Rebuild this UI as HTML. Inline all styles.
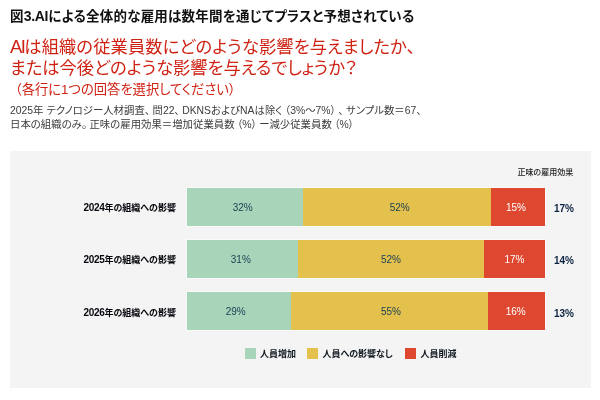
<!DOCTYPE html>
<html lang="ja">
<head>
<meta charset="utf-8">
<title>図3</title>
<style>
html,body{margin:0;padding:0;background:#fff;}
body{font-feature-settings:"palt";width:600px;height:400px;position:relative;overflow:hidden;font-family:"Liberation Sans","Noto Sans CJK JP",sans-serif;color:#111;}
.abs{position:absolute;white-space:nowrap;}
#title{left:10px;top:7px;font-size:13.5px;line-height:20px;font-weight:700;color:#111;letter-spacing:0.22px;}
#q{left:10px;top:36.5px;font-size:17.25px;line-height:21px;color:#cf2213;}
#title .d{font-size:14px;letter-spacing:-0.3px;line-height:1px;}
#q .ai{font-size:18.5px;letter-spacing:-1.6px;line-height:1px;}
#q .l1{letter-spacing:0.12px;}
#sub{left:15px;top:80px;font-size:13.3px;line-height:20px;color:#cf2213;}
#note{left:10px;top:104px;font-size:10.4px;line-height:13.8px;color:#3c3c3c;}
#note i{font-style:normal;margin-right:2.5px;}
#note b{font-weight:normal;margin-left:2.5px;}
#note u{text-decoration:none;}
#panel{position:absolute;left:10px;top:150.5px;width:581px;height:237.5px;background:#f4f4f4;}
.bar{position:absolute;left:187px;width:358px;height:38px;box-shadow:0 0 0 1px rgba(255,255,255,.45);}
.seg{position:absolute;top:0;height:38px;}
.g{background:#a8d5b9;}
.y{background:#e4c04c;}
.r{background:#de4831;}
.pct{position:absolute;top:1.2px;height:38px;line-height:38px;font-size:10px;color:#1d4257;transform:translateX(-50%);white-space:nowrap;}
.pct.w{color:#fff;}
.lab{position:absolute;right:424px;font-size:9px;font-weight:700;line-height:14px;color:#05070c;white-space:nowrap;}
.lab .d{font-size:10px;letter-spacing:-0.35px;line-height:1px;}
.net{position:absolute;left:554px;font-size:10px;font-weight:700;line-height:14px;color:#0c2340;white-space:nowrap;}
#nethead{left:517.5px;top:166px;font-size:8px;line-height:14px;color:#222;font-weight:500;}
.sw{position:absolute;top:348px;width:11px;height:11px;}
.lt{position:absolute;top:346.5px;font-size:9px;line-height:14px;font-weight:700;color:#101820;white-space:nowrap;}
</style>
</head>
<body>
<div id="title" class="abs">図<span class="d">3.AI</span>による全体的な雇用は数年間を通じてプラスと予想されている</div>
<div id="q" class="abs"><span class="l1"><span class="ai">AI</span>は組織の従業員数にどのような影響を与えましたか、</span><br>または今後どのような影響を与えるでしょうか？</div>
<div id="sub" class="abs">（各行に1つの回答を選択してください）</div>
<div id="note" class="abs">2025年 テクノロジー人材調査<i>、</i>問22<i>、</i>DKNSおよびNAは除く<b>（</b>3%〜7%<i>）</i><i>、</i>サンプル数＝67、<br>日本の組織のみ<i>。</i>正味の雇用効果<u>＝</u>増加従業員数<b>（</b>%<i>）</i>ー減少従業員数<b>（</b>%）</div>

<div id="panel"></div>

<div id="nethead" class="abs">正味の雇用効果</div>

<div class="lab" style="top:201px"><span class="d">2024</span>年の組織への影響</div>
<div class="bar" style="top:188px">
  <div class="seg g" style="left:0;width:115.7px"></div>
  <div class="seg y" style="left:115.7px;width:188.1px"></div>
  <div class="seg r" style="left:303.8px;width:54.2px"></div>
  <div class="pct" style="left:55.7px">32%</div>
  <div class="pct" style="left:212.7px">52%</div>
  <div class="pct w" style="left:329px">15%</div>
</div>
<div class="net" style="top:202px">17%</div>

<div class="lab" style="top:253px"><span class="d">2025</span>年の組織への影響</div>
<div class="bar" style="top:240px">
  <div class="seg g" style="left:0;width:111px"></div>
  <div class="seg y" style="left:111px;width:186.2px"></div>
  <div class="seg r" style="left:297.2px;width:60.8px"></div>
  <div class="pct" style="left:53.8px">31%</div>
  <div class="pct" style="left:203.9px">52%</div>
  <div class="pct w" style="left:327.4px">17%</div>
</div>
<div class="net" style="top:254px">14%</div>

<div class="lab" style="top:305.5px"><span class="d">2026</span>年の組織への影響</div>
<div class="bar" style="top:292px">
  <div class="seg g" style="left:0;width:103.8px"></div>
  <div class="seg y" style="left:103.8px;width:196.9px"></div>
  <div class="seg r" style="left:300.7px;width:57.3px"></div>
  <div class="pct" style="left:48.7px">29%</div>
  <div class="pct" style="left:203.9px">55%</div>
  <div class="pct w" style="left:328.7px">16%</div>
</div>
<div class="net" style="top:306.5px">13%</div>

<div class="sw g" style="left:245px"></div><div class="lt" style="left:260px">人員増加</div>
<div class="sw y" style="left:307.4px"></div><div class="lt" style="left:322.4px">人員への影響なし</div>
<div class="sw r" style="left:405.4px"></div><div class="lt" style="left:420.4px">人員削減</div>
</body>
</html>
